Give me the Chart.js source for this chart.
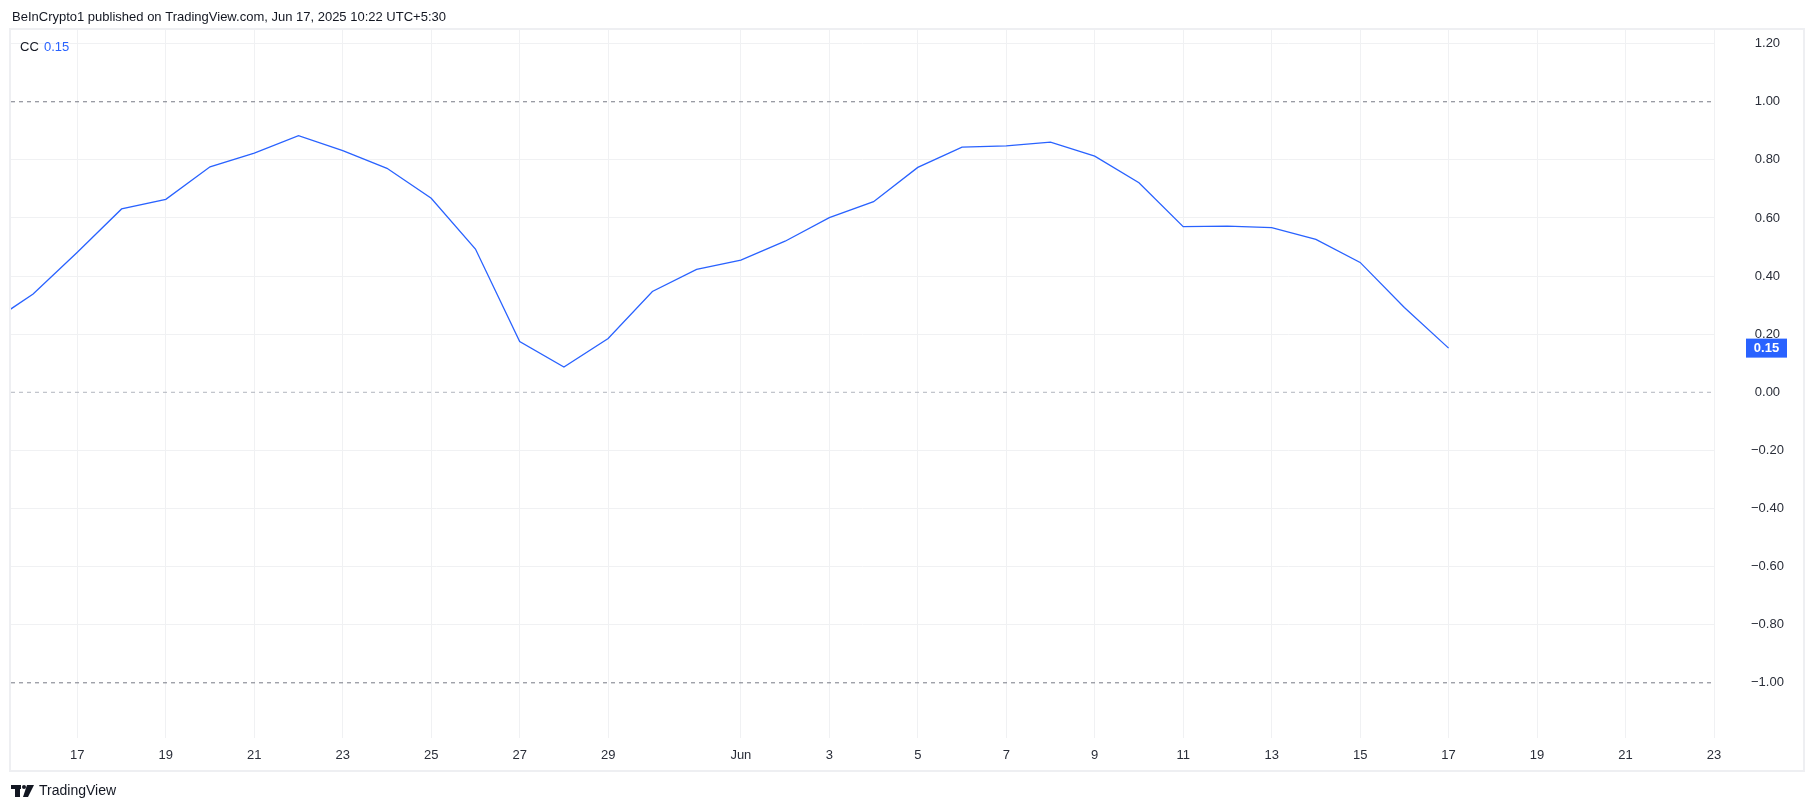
<!DOCTYPE html>
<html lang="en">
<head>
  <meta charset="UTF-8">
  <title>CC indicator - TradingView snapshot</title>
  <script src="https://cdn.jsdelivr.net/npm/chart.js"></script>
  <style>
    body {
      margin: 0;
      background: #ffffff;
      font-family: "Liberation Sans", Arial, sans-serif;
    }
    .chart-container {
      position: relative;
      width: 1814px;
      height: 810px;
    }
  </style>
</head>
<body>
  <div class="chart-container">
    <canvas id="ccChart"></canvas>
  </div>

  <script>
    // daily closes of the CC indicator, May 15 .. Jun 17 2025
    const dates = [
      'May 15', 'May 16', 'May 17', 'May 18', 'May 19', 'May 20', 'May 21', 'May 22',
      'May 23', 'May 24', 'May 25', 'May 26', 'May 27', 'May 28', 'May 29', 'May 30',
      'May 31', 'Jun 1', 'Jun 2', 'Jun 3', 'Jun 4', 'Jun 5', 'Jun 6', 'Jun 7',
      'Jun 8', 'Jun 9', 'Jun 10', 'Jun 11', 'Jun 12', 'Jun 13', 'Jun 14', 'Jun 15',
      'Jun 16', 'Jun 17'
    ];
    const ccValues = [
      0.236, 0.338, 0.482, 0.631, 0.664, 0.776, 0.823, 0.883,
      0.832, 0.771, 0.668, 0.493, 0.175, 0.087, 0.185, 0.347,
      0.423, 0.455, 0.520, 0.601, 0.656, 0.774, 0.844, 0.848,
      0.861, 0.813, 0.721, 0.570, 0.572, 0.567, 0.526, 0.447,
      0.292, 0.152
    ];

    // x axis counts days from May 17 (May 15 = -2)
    const firstDay = -2;
    const xMin = -1.5;
    const xMax = 37;
    const tickDays = [0, 2, 4, 6, 8, 10, 12, 15, 17, 19, 21, 23, 25, 27, 29, 31, 33, 35, 37];
    const tickLabels = ['17', '19', '21', '23', '25', '27', '29', 'Jun', '3', '5', '7', '9', '11', '13', '15', '17', '19', '21', '23'];

    const yTicks = [-1.0, -0.8, -0.6, -0.4, -0.2, 0, 0.2, 0.4, 0.6, 0.8, 1.0, 1.2];
    const levels = [1, 0, -1];
    const levelColors = ['#787b86', '#b2b5be', '#787b86'];

    const lineColor = '#2962ff';
    const textColor = '#131722';
    const axisTextColor = '#2a2e39';
    const gridColor = '#f0f1f3';
    const fontFamily = '"Liberation Sans", Arial, sans-serif';

    const ccPoints = ccValues.map((v, i) => ({ x: firstDay + i, y: v }));
    const lastValue = ccValues[ccValues.length - 1];

    const levelSets = levels.map((lv, i) => ({
      label: 'level ' + lv,
      data: [{ x: xMin, y: lv }, { x: xMax, y: lv }],
      borderColor: levelColors[i],
      borderWidth: 1,
      borderDash: [4, 4],
      pointRadius: 0,
      clip: 0
    }));

    // header, legend, frame, last value badge and footer
    const overlayPlugin = {
      id: 'tvOverlay',
      afterDraw(chart) {
        const { ctx } = chart;
        const yScale = chart.scales.y;
        ctx.save();

        // frame around pane + axes
        ctx.strokeStyle = '#eeeff2';
        ctx.lineWidth = 2;
        ctx.strokeRect(10, 29, 1794, 742);

        // header
        ctx.fillStyle = textColor;
        ctx.font = '13px ' + fontFamily;
        ctx.textBaseline = 'middle';
        ctx.textAlign = 'left';
        ctx.fillText('BeInCrypto1 published on TradingView.com, Jun 17, 2025 10:22 UTC+5:30', 12, 17);

        // legend
        ctx.fillText('CC', 20, 47);
        ctx.fillStyle = lineColor;
        ctx.fillText(lastValue.toFixed(2), 44, 47);

        // last value badge on the price axis
        const yPix = yScale.getPixelForValue(lastValue);
        ctx.fillStyle = lineColor;
        ctx.fillRect(yScale.left + 32, yPix - 9.5, 41, 19);
        ctx.fillStyle = '#ffffff';
        ctx.font = 'bold 13px ' + fontFamily;
        ctx.textAlign = 'center';
        ctx.fillText(lastValue.toFixed(2), yScale.left + 52.5, yPix + 0.5);

        // footer logo
        ctx.fillStyle = textColor;
        ctx.fillRect(11, 785, 10, 4);
        ctx.fillRect(15, 785, 5, 12);
        ctx.beginPath();
        ctx.arc(24, 787, 2, 0, Math.PI * 2);
        ctx.fill();
        ctx.beginPath();
        ctx.moveTo(27, 785);
        ctx.lineTo(34, 785);
        ctx.lineTo(28, 797);
        ctx.lineTo(23, 797);
        ctx.closePath();
        ctx.fill();
        ctx.font = '14px ' + fontFamily;
        ctx.textAlign = 'left';
        ctx.fillText('TradingView', 39, 791);

        ctx.restore();
      }
    };

    const ctx = document.getElementById('ccChart').getContext('2d');
    new Chart(ctx, {
      type: 'line',
      data: {
        datasets: [
          {
            label: 'CC',
            data: ccPoints,
            borderColor: lineColor,
            borderWidth: 1.3,
            pointRadius: 0,
            tension: 0,
            clip: 0
          },
          ...levelSets
        ]
      },
      options: {
        responsive: true,
        maintainAspectRatio: false,
        animation: false,
        layout: {
          padding: { left: 11, top: 30, right: 11, bottom: 39 }
        },
        plugins: {
          legend: { display: false },
          tooltip: { enabled: false }
        },
        scales: {
          x: {
            type: 'linear',
            min: xMin,
            max: xMax,
            afterBuildTicks(scale) {
              scale.ticks = tickDays.map(d => ({ value: d }));
            },
            afterFit(scale) {
              scale.height = 33;
              scale.paddingLeft = 0;
              scale.paddingRight = 0;
            },
            ticks: {
              autoSkip: false,
              maxRotation: 0,
              padding: 10,
              color: axisTextColor,
              font: { family: fontFamily, size: 13 },
              callback: (value) => tickLabels[tickDays.indexOf(value)]
            },
            grid: {
              color: gridColor,
              drawTicks: false
            },
            border: { display: false }
          },
          y: {
            type: 'linear',
            position: 'right',
            min: -1.19,
            max: 1.247,
            afterBuildTicks(scale) {
              scale.ticks = yTicks.map(v => ({ value: v }));
            },
            afterFit(scale) {
              scale.width = 89;
              // label padding must not push the plot area down
              scale.paddingTop = 0;
              scale.paddingBottom = 0;
            },
            ticks: {
              padding: 37,
              crossAlign: 'center',
              color: axisTextColor,
              font: { family: fontFamily, size: 13 },
              callback: (value) => {
                const s = Math.abs(value).toFixed(2);
                return value < -1e-9 ? '\u2212' + s : s;
              }
            },
            grid: {
              color: (c) => levels.some(lv => Math.abs(lv - c.tick.value) < 1e-9) ? 'rgba(0,0,0,0)' : gridColor,
              drawTicks: false
            },
            border: { display: false }
          }
        }
      },
      plugins: [overlayPlugin]
    });
  </script>
</body>
</html>
